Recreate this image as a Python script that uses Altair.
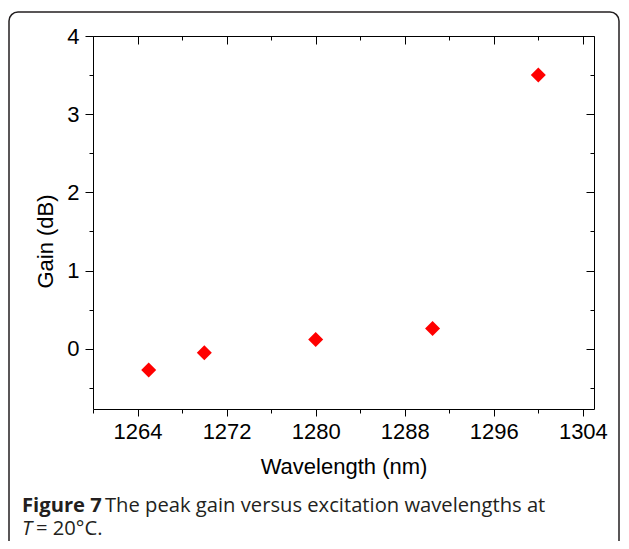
import altair as alt
import pandas as pd

# ---- data ----
wavelength = [1265, 1270, 1280, 1290.5, 1300]
gain = [-0.27, -0.05, 0.12, 0.26, 3.5]

x_major = [1264, 1272, 1280, 1288, 1296, 1304]
x_minor = [1260, 1268, 1276, 1284, 1292, 1300]
y_major = [0, 1, 2, 3, 4]
y_minor = [-0.5, 0.5, 1.5, 2.5, 3.5]
x_domain = [1260, 1305]
y_domain = [-0.77, 4]

x_title = "Wavelength (nm)"
y_title = "Gain (dB)"
cap_bold = "Figure 7"
cap_rest = "The peak gain versus excitation wavelengths at"
cap_T = "T"
cap_eq = "= 20°C."

df = pd.DataFrame({"wavelength": wavelength, "gain": gain})
one = pd.DataFrame({"k": [0]})

W, H = 501, 373
FONT = "Liberation Sans"
FS = 22
CFONT = "Open Sans"
CFS = 20.2

xs = alt.Scale(domain=x_domain, nice=False, zero=False)
ys = alt.Scale(domain=y_domain, nice=False, zero=False)


def ax(orient, values, size, offset=0, labels=False, title=None, **kw):
    d = dict(orient=orient, values=values, tickSize=size, labels=labels,
             domain=False, grid=False, offset=offset, tickColor="black",
             tickWidth=1, labelFont=FONT, labelFontSize=FS, labelColor="black",
             titleFont=FONT, titleFontSize=FS, titleFontWeight="normal",
             titleColor="black", format="d")
    d["title"] = title if title is not None else ""
    d.update(kw)
    return alt.Axis(**d)


points = alt.Chart(df).mark_point(
    shape="diamond", filled=True, size=225, color="#ff0000", opacity=1
).encode(
    x=alt.X("wavelength:Q", scale=xs,
            axis=ax("bottom", x_major, 7, labels=True, title=x_title,
                    labelPadding=5, titlePadding=14)),
    y=alt.Y("gain:Q", scale=ys,
            axis=ax("left", y_major, 8, labels=True, title=y_title,
                    labelPadding=6, titlePadding=9, titleY=205)),
)


def ghost(xaxis, yaxis):
    return alt.Chart(df).mark_point(opacity=0).encode(
        x=alt.X("wavelength:Q", scale=xs, axis=xaxis),
        y=alt.Y("gain:Q", scale=ys, axis=yaxis),
    )


minor_out = ghost(ax("bottom", x_minor, 4), ax("left", y_minor, 4))
major_in = ghost(ax("top", x_major, 8, offset=-8), ax("right", y_major, 8, offset=-8))
minor_in = ghost(ax("top", x_minor, 4, offset=-4), ax("right", y_minor, 4, offset=-4))

frame = alt.Chart(one).mark_rect(
    fill="transparent", stroke="#231f20", strokeWidth=1.5, cornerRadius=9
).encode(
    x=alt.value(-84), x2=alt.value(526), y=alt.value(-24), y2=alt.value(560)
)


def txt(s, x, y, weight="normal", style="normal"):
    return alt.Chart(one).mark_text(
        text=s, align="left", baseline="alphabetic", font=CFONT,
        fontSize=CFS, fontWeight=weight, fontStyle=style, color="#231f20"
    ).encode(x=alt.value(x), y=alt.value(y))


caption = (txt(cap_bold, -71, 476, weight="bold")
           + txt(cap_rest, 12, 476)
           + txt(cap_T, -71, 499, style="italic")
           + txt(cap_eq, -57, 499))

chart = alt.layer(frame, minor_out, major_in, minor_in, points, caption).resolve_axis(
    x="independent", y="independent"
).properties(
    width=W, height=H,
    autosize=alt.AutoSizeParams(type="none"),
    padding={"left": 85, "top": 28, "right": 27, "bottom": 132},
).configure_view(stroke="black", strokeWidth=1)

chart.save("out.html", embed_options={"renderer": "svg", "actions": False})
